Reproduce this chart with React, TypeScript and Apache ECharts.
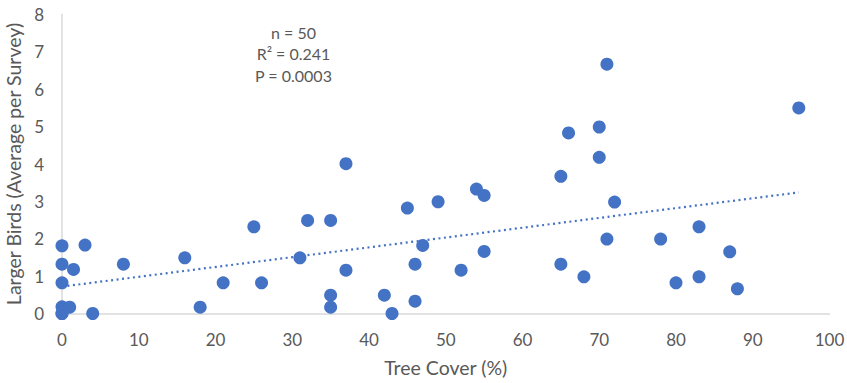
import React, { useEffect, useRef } from "react";
import * as echarts from "echarts";

const treeCover = [
  0, 0, 0, 0, 0, 0, 1, 1.5, 3, 4, 8, 16, 18, 21, 25, 26, 31,
  32, 35, 35, 35, 37, 37, 42, 43, 45, 46, 46, 47, 49, 52, 54, 55, 55, 65, 65, 66,
  71, 70, 70, 72, 71, 68, 78, 80, 83, 83, 87, 88, 96,
];
const largerBirds = [
  1.81, 1.32, 0.82, 0.18, 0, 0, 0.17, 1.18, 1.83, 0, 1.32, 1.49, 0.17, 0.82, 2.32, 0.82, 1.49,
  2.49, 2.49, 0.49, 0.17, 4.01, 1.16, 0.49, 0, 2.82, 1.32, 0.33, 1.82, 2.99, 1.16, 3.33, 3.16, 1.66, 3.67, 1.32, 4.83,
  6.67, 4.99, 4.18, 2.98, 1.99, 0.98, 1.99, 0.82, 2.32, 0.98, 1.65, 0.66, 5.5,
];
const trendX = [0, 96];
const trendY = [0.72, 3.24];
const statsLines = ["n = 50", "R² = 0.241", "P = 0.0003"];
const xTitle = "Tree Cover (%)";
const yTitle = "Larger Birds (Average per Survey)";

const FONT = "Lato, 'Noto Sans', sans-serif";
const GRAY = "#595959";
const BLUE = "#4472C4";

export default function App() {
  const ref = useRef<HTMLDivElement>(null);
  useEffect(() => {
    if (!ref.current) return;
    const chart = echarts.init(ref.current, undefined, { renderer: "svg" });
    chart.setOption({
      animation: false,
      backgroundColor: "#ffffff",
      textStyle: { fontFamily: FONT },
      grid: {
        left: 62,
        right: 17.5,
        top: 14.5,
        bottom: 69.5,
        containLabel: false,
        outerBoundsMode: "none",
      },
      xAxis: {
        type: "value",
        min: 0,
        max: 100,
        interval: 10,
        name: xTitle,
        nameLocation: "middle",
        nameGap: 44,
        nameTextStyle: { color: GRAY, fontSize: 19.5, fontFamily: FONT },
        axisLine: { show: true, lineStyle: { color: "#d9d9d9", width: 1.5 } },
        axisTick: { show: false },
        splitLine: { show: false },
        axisLabel: { color: GRAY, fontSize: 17, margin: 17, fontFamily: FONT },
      },
      yAxis: {
        type: "value",
        min: 0,
        max: 8,
        interval: 1,
        name: yTitle,
        nameLocation: "middle",
        nameGap: 31,
        nameTextStyle: { color: GRAY, fontSize: 19.5, fontFamily: FONT },
        axisLine: { show: true, lineStyle: { color: "#d9d9d9", width: 1.5 } },
        axisTick: { show: false },
        splitLine: { show: false },
        axisLabel: { color: GRAY, fontSize: 17, margin: 18, fontFamily: FONT },
      },
      graphic: statsLines.map((t, i) => ({
        type: "text",
        x: 293.5,
        y: 32.5 + i * 21.3,
        style: {
          text: t,
          fill: GRAY,
          font: `16px ${FONT}`,
          textAlign: "center",
          textVerticalAlign: "middle",
        },
      })),
      series: [
        {
          type: "line",
          data: trendX.map((x, i) => [x, trendY[i]]),
          showSymbol: false,
          symbol: "none",
          lineStyle: { color: BLUE, width: 2.2, type: [2, 3.5] },
          z: 1,
        },
        {
          type: "scatter",
          data: treeCover.map((x, i) => [x, largerBirds[i]]),
          symbolSize: 13,
          itemStyle: { color: BLUE, opacity: 1 },
          z: 2,
        },
      ],
    });
    return () => chart.dispose();
  }, []);
  return (
    <div
      ref={ref}
      style={{ position: "fixed", left: 0, top: 0, width: 847, height: 383, background: "#fff" }}
    />
  );
}
